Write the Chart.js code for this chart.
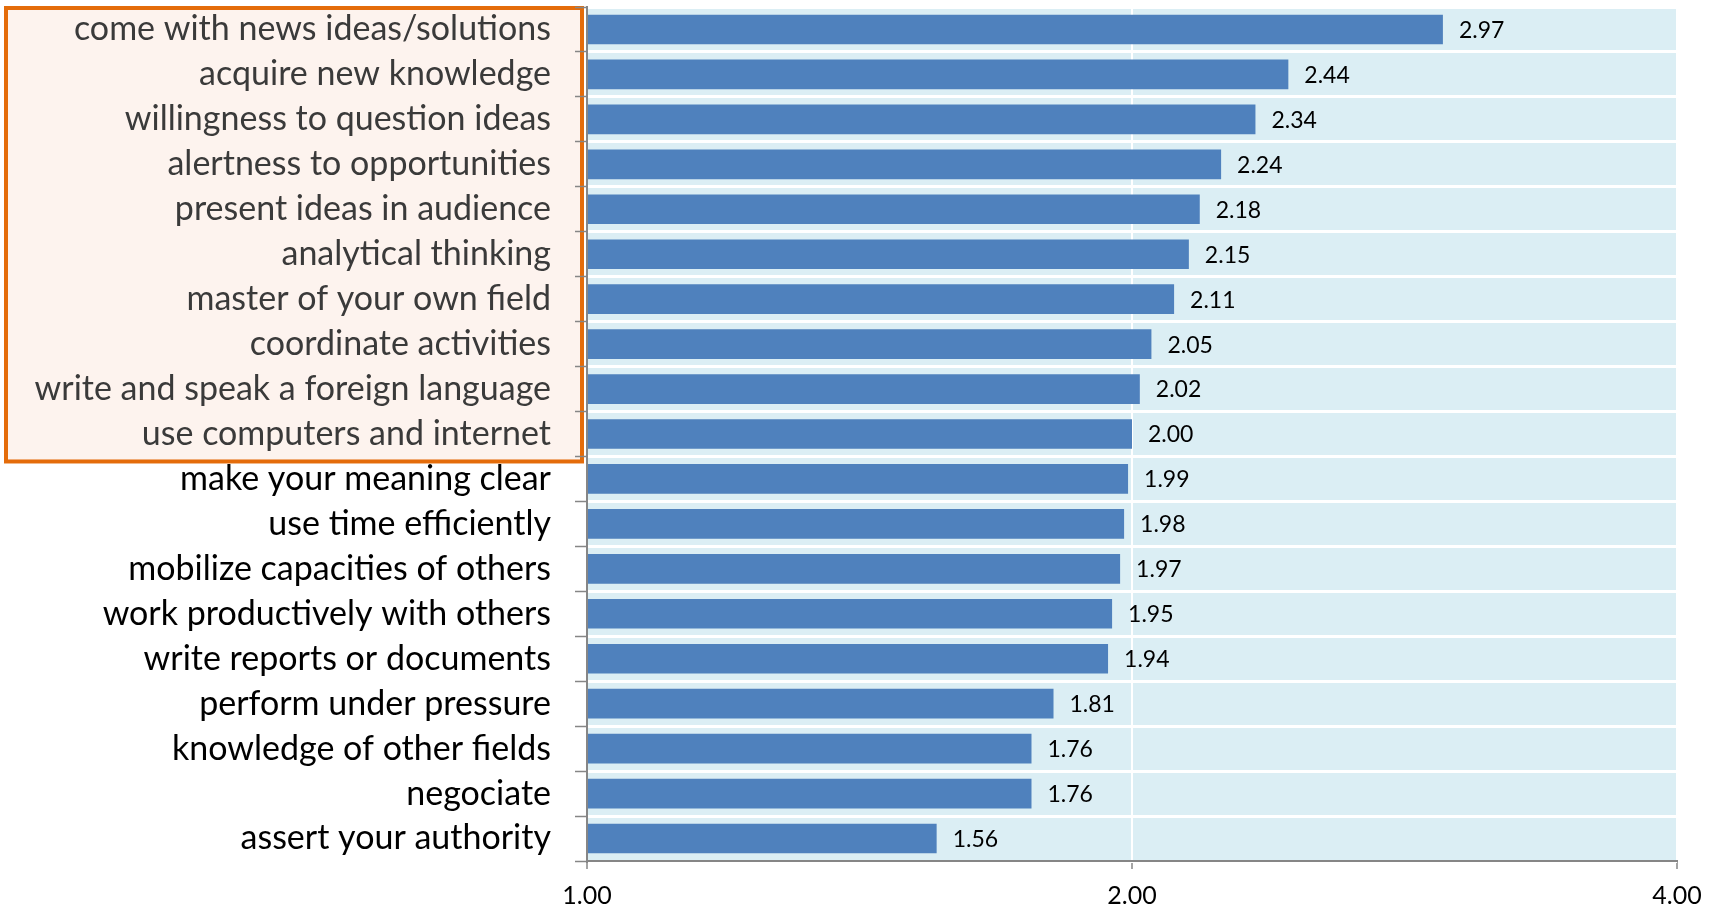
<!DOCTYPE html>
<html>
<head>
<meta charset="utf-8">
<script src="https://cdn.jsdelivr.net/npm/chart.js@4"></script>
<style>
  body { margin: 0; background: #fff; }
  canvas { display: block; background: #fff; }
</style>
</head>
<body>
<canvas id="skillsChart" width="1719" height="905"></canvas>
<script>
// Chart data
const skills = [
    'come with news ideas/solutions',
    'acquire new knowledge',
    'willingness to question ideas',
    'alertness to opportunities',
    'present ideas in audience',
    'analytical thinking',
    'master of your own field',
    'coordinate activities',
    'write and speak a foreign language',
    'use computers and internet',
    'make your meaning clear',
    'use time efficiently',
    'mobilize capacities of others',
    'work productively with others',
    'write reports or documents',
    'perform under pressure',
    'knowledge of other fields',
    'negociate',
    'assert your authority'
];
const scores = [2.97, 2.44, 2.34, 2.24, 2.18, 2.15, 2.11, 2.05, 2.02, 2.00, 1.99, 1.98, 1.97, 1.95, 1.94, 1.81, 1.76, 1.76, 1.56];
const xTickValues = [1, 2, 4];
const highlightedCount = 10;

const labelFont = 'Lato';

// Light blue plot background + orange highlight box behind the top labels
const backgroundPlugin = {
    id: 'backgroundPlugin',
    beforeDraw(chart) {
        const ctx = chart.ctx;
        const area = chart.chartArea;
        ctx.save();
        ctx.fillStyle = '#dbeef4';
        ctx.fillRect(area.left, area.top, area.right - area.left, area.bottom - area.top);

        const yScale = chart.scales.y;
        const step = (yScale.bottom - yScale.top) / skills.length;
        const boxBottom = yScale.top + step * highlightedCount + 5;
        ctx.fillStyle = '#fdf3ee';
        ctx.fillRect(6, area.top + 1, 576, boxBottom - area.top - 1);
        ctx.strokeStyle = '#e46c0a';
        ctx.lineWidth = 4;
        ctx.strokeRect(6, area.top + 1, 576, boxBottom - area.top - 1);
        ctx.restore();
    }
};

// Value labels at the end of each bar
const valueLabels = {
    id: 'valueLabels',
    afterDatasetsDraw(chart) {
        const ctx = chart.ctx;
        const meta = chart.getDatasetMeta(0);
        ctx.save();
        ctx.font = '23px ' + labelFont;
        ctx.fillStyle = '#000';
        ctx.textAlign = 'left';
        ctx.textBaseline = 'middle';
        meta.data.forEach((bar, i) => {
            ctx.fillText(scores[i].toFixed(2), bar.x + 16, bar.y + 1);
        });
        ctx.restore();
    }
};

const ctx = document.getElementById('skillsChart').getContext('2d');
new Chart(ctx, {
    type: 'bar',
    data: {
        labels: skills,
        datasets: [{
            data: scores,
            base: 1,
            backgroundColor: '#4f81bd',
            barPercentage: 0.66,
            categoryPercentage: 1
        }]
    },
    options: {
        indexAxis: 'y',
        responsive: false,
        animation: false,
        devicePixelRatio: 1,
        layout: {
            autoPadding: false,
            padding: { left: 0, top: 7, right: 42, bottom: 0 }
        },
        plugins: {
            legend: { display: false },
            tooltip: { enabled: false }
        },
        scales: {
            x: {
                type: 'logarithmic',
                min: 1,
                max: 4,
                afterBuildTicks: scale => {
                    scale.ticks = xTickValues.map(v => ({ value: v }));
                },
                afterFit: scale => {
                    scale.height = 44;
                    scale.paddingLeft = 0;
                    scale.paddingRight = 0;
                },
                ticks: {
                    callback: v => Number(v).toFixed(2),
                    font: { family: labelFont, size: 25 },
                    color: '#000',
                    padding: 12,
                    maxRotation: 0,
                    autoSkip: false
                },
                grid: {
                    color: '#ffffff',
                    lineWidth: 2,
                    tickColor: '#868686',
                    tickLength: 8,
                    tickWidth: 1.5
                },
                border: { color: '#868686', width: 2 }
            },
            y: {
                afterFit: scale => {
                    scale.width = 587;
                    scale.paddingTop = 0;
                    scale.paddingBottom = 0;
                },
                ticks: {
                    font: { family: labelFont, size: 34 },
                    color: c => c.index < highlightedCount ? '#3a3a3a' : '#000',
                    padding: 24,
                    autoSkip: false
                },
                grid: {
                    color: '#ffffff',
                    lineWidth: 3,
                    offset: true,
                    tickColor: '#868686',
                    tickLength: 12,
                    tickWidth: 1.5
                },
                border: { color: '#868686', width: 2 }
            }
        }
    },
    plugins: [backgroundPlugin, valueLabels]
});
</script>
</body>
</html>
